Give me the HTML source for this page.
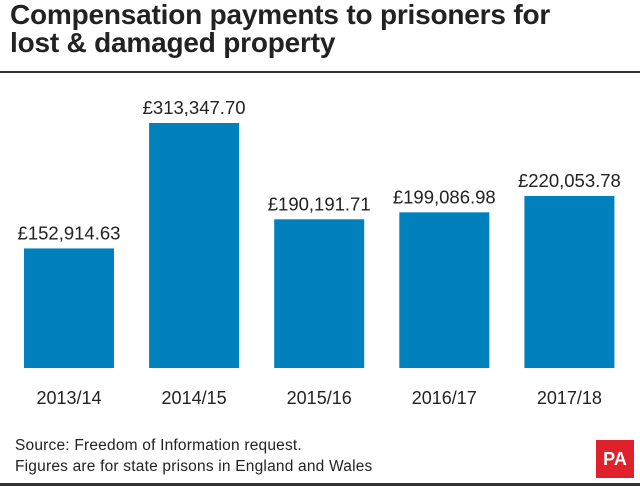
<!DOCTYPE html>
<html><head><meta charset="utf-8"><style>
body{margin:0;background:#fff;}
#wrap{position:relative;width:640px;height:486px;overflow:hidden;font-family:"Liberation Sans",sans-serif;color:#222;}
h1{position:absolute;left:10px;top:1px;margin:0;font-size:28px;line-height:28px;font-weight:bold;letter-spacing:-0.2px;color:#222;}
.rule{position:absolute;left:0;width:640px;background:#333;}
.src{position:absolute;left:15px;font-size:15.5px;letter-spacing:0.2px;color:#222;}
#pa{position:absolute;left:596px;top:440px;width:38px;height:38px;background:#e0202a;color:#fff;font-weight:bold;font-size:18px;text-align:center;line-height:38px;}
</style></head><body>
<div id="wrap">
<h1>Compensation payments to prisoners for<br>lost &amp; damaged property</h1>
<div class="rule" style="top:71px;height:2px"></div>
<svg id="chart" width="640" height="420" style="position:absolute;left:0;top:0"></svg>
<div class="src" style="top:437px">Source: Freedom of Information request.</div>
<div class="src" style="top:458px">Figures are for state prisons in England and Wales</div>
<div id="pa">PA</div>
<div class="rule" style="top:483px;height:3px"></div>
</div>
<script>
const categories=["2013/14","2014/15","2015/16","2016/17","2017/18"];
const values=[152914.63,313347.70,190191.71,199086.98,220053.78];
const valueLabels=["£152,914.63","£313,347.70","£190,191.71","£199,086.98","£220,053.78"];
const svg=document.getElementById('chart');
const NS='http://www.w3.org/2000/svg';
const base=368, plotH=245, maxV=313347.70;
function y(v){return base - v/maxV*plotH;}
function x(i){return 24 + i*125.1;}
const bw=90;
categories.forEach((c,i)=>{
  const r=document.createElementNS(NS,'rect');
  r.setAttribute('x',x(i));r.setAttribute('y',y(values[i]));
  r.setAttribute('width',bw);r.setAttribute('height',base-y(values[i]));
  r.setAttribute('fill','#0080bd');
  
  
  svg.appendChild(r);
  const t=document.createElementNS(NS,'text');
  t.setAttribute('x',x(i)+bw/2);t.setAttribute('y',y(values[i])-9);
  t.setAttribute('text-anchor','middle');t.setAttribute('font-size','18.5');
  t.setAttribute('fill','#222');t.setAttribute('font-family','Liberation Sans, sans-serif');
  t.textContent=valueLabels[i];
  
  
  svg.appendChild(t);
  const l=document.createElementNS(NS,'text');
  l.setAttribute('x',x(i)+bw/2);l.setAttribute('y',404);
  l.setAttribute('text-anchor','middle');l.setAttribute('font-size','18');
  l.setAttribute('fill','#222');l.setAttribute('font-family','Liberation Sans, sans-serif');
  l.textContent=c;
  
  
  svg.appendChild(l);
});
</script>
</body></html>
